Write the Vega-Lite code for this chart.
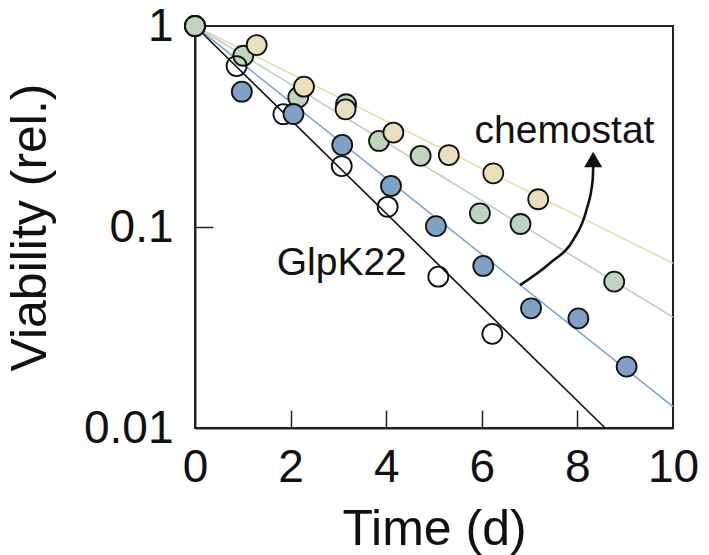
{
  "$schema": "https://vega.github.io/schema/vega-lite/v6.json",
  "autosize": "none",
  "width": 478,
  "height": 402,
  "padding": {"left": 195, "top": 26, "right": 36, "bottom": 127},
  "background": "white",
  "config": {
    "font": "Liberation Sans",
    "view": {"stroke": "#222", "strokeWidth": 2},
    "axis": {
      "grid": false,
      "domainColor": "#222",
      "domainWidth": 2,
      "tickColor": "#222",
      "tickWidth": 1.5,
      "labelFont": "Liberation Sans",
      "labelFontSize": 46,
      "labelColor": "#111",
      "titleFont": "Liberation Sans",
      "titleFontSize": 50,
      "titleFontWeight": "normal",
      "titleColor": "#111"
    }
  },
  "resolve": {"axis": {"x": "independent", "y": "independent"}},
  "datasets": {
    "fits": [
      {"series": "chemostat 3", "x": 0, "y": 1},
      {"series": "chemostat 3", "x": 10, "y": 0.066},
      {"series": "chemostat 2", "x": 0, "y": 1},
      {"series": "chemostat 2", "x": 10, "y": 0.0356},
      {"series": "chemostat 1", "x": 0, "y": 1},
      {"series": "chemostat 1", "x": 10, "y": 0.01277},
      {"series": "GlpK22", "x": 0, "y": 1},
      {"series": "GlpK22", "x": 8.58, "y": 0.01}
    ],
    "points": [
      {"series": "chemostat 2", "x": 1.01, "y": 0.711},
      {"series": "chemostat 2", "x": 2.16, "y": 0.442},
      {"series": "chemostat 2", "x": 3.16, "y": 0.408},
      {"series": "chemostat 2", "x": 3.85, "y": 0.268},
      {"series": "chemostat 2", "x": 4.72, "y": 0.226},
      {"series": "chemostat 2", "x": 5.96, "y": 0.117},
      {"series": "chemostat 2", "x": 6.81, "y": 0.1035},
      {"series": "chemostat 2", "x": 8.77, "y": 0.0535},
      {"series": "chemostat 3", "x": 0, "y": 1},
      {"series": "chemostat 3", "x": 1.29, "y": 0.804},
      {"series": "chemostat 3", "x": 2.28, "y": 0.499},
      {"series": "chemostat 3", "x": 3.15, "y": 0.385},
      {"series": "chemostat 3", "x": 4.15, "y": 0.295},
      {"series": "chemostat 3", "x": 5.31, "y": 0.228},
      {"series": "chemostat 3", "x": 6.24, "y": 0.185},
      {"series": "chemostat 3", "x": 7.18, "y": 0.1374},
      {"series": "GlpK22", "x": 0, "y": 1},
      {"series": "GlpK22", "x": 0.87, "y": 0.632},
      {"series": "GlpK22", "x": 1.85, "y": 0.364},
      {"series": "GlpK22", "x": 3.07, "y": 0.201},
      {"series": "GlpK22", "x": 4.03, "y": 0.126},
      {"series": "GlpK22", "x": 5.09, "y": 0.0566},
      {"series": "GlpK22", "x": 6.22, "y": 0.0294},
      {"series": "chemostat 1", "x": 0, "y": 1},
      {"series": "chemostat 1", "x": 0.98, "y": 0.471},
      {"series": "chemostat 1", "x": 2.06, "y": 0.365},
      {"series": "chemostat 1", "x": 3.08, "y": 0.256},
      {"series": "chemostat 1", "x": 4.10, "y": 0.160},
      {"series": "chemostat 1", "x": 5.04, "y": 0.101},
      {"series": "chemostat 1", "x": 6.03, "y": 0.064},
      {"series": "chemostat 1", "x": 7.03, "y": 0.0394},
      {"series": "chemostat 1", "x": 8.02, "y": 0.0351},
      {"series": "chemostat 1", "x": 9.03, "y": 0.0202},
      {"series": "chemostat 2", "x": 0, "y": 1}
    ],
    "arrow": [
      {"x": 6.80, "y": 0.0514},
      {"x": 7.43, "y": 0.0662},
      {"x": 7.91, "y": 0.0861},
      {"x": 8.19, "y": 0.1215},
      {"x": 8.32, "y": 0.1714},
      {"x": 8.33, "y": 0.199}
    ],
    "arrowhead": [
      {"x": 8.33, "y": 0.2168}
    ],
    "labels": [
      {"x": 7.73, "y": 0.262, "text": "chemostat"},
      {"x": 3.07, "y": 0.0577, "text": "GlpK22"}
    ]
  },
  "layer": [
    {
      "data": {"name": "fits"},
      "mark": {"type": "line", "strokeWidth": 1.6},
      "encoding": {
        "x": {
          "field": "x",
          "type": "quantitative",
          "scale": {"domain": [0, 10], "nice": false, "zero": false},
          "axis": {
            "orient": "bottom",
            "values": [0, 2, 4, 6, 8, 10],
            "title": "Time (d)",
            "ticks": false,
            "labelPadding": 17,
            "titlePadding": 14,
            "labelFlush": false
          }
        },
        "y": {
          "field": "y",
          "type": "quantitative",
          "scale": {"type": "log", "domain": [0.01, 1], "nice": false},
          "axis": {
            "orient": "left",
            "values": [0.01, 0.1, 1],
            "format": "~g",
            "title": "Viability (rel.)",
            "ticks": false,
            "labelPadding": 22,
            "titlePadding": 28,
            "labelFlush": false
          }
        },
        "stroke": {
          "field": "series",
          "type": "nominal",
          "scale": {
            "domain": ["GlpK22", "chemostat 1", "chemostat 2", "chemostat 3"],
            "range": ["#111111", "#7ea6d0", "#b9d0b9", "#e8dcae"]
          },
          "legend": null
        }
      }
    },
    {
      "data": {"name": "points"},
      "mark": {"type": "point", "filled": false, "size": 400, "stroke": "#111", "strokeWidth": 1.8, "opacity": 1},
      "encoding": {
        "x": {
          "field": "x",
          "type": "quantitative",
          "axis": {
            "orient": "bottom",
            "offset": -18,
            "values": [2, 4, 6, 8],
            "domain": false,
            "labels": false,
            "title": null,
            "ticks": true,
            "tickSize": 18
          }
        },
        "y": {
          "field": "y",
          "type": "quantitative",
          "axis": {
            "orient": "left",
            "offset": -18,
            "values": [0.1],
            "domain": false,
            "labels": false,
            "title": null,
            "ticks": true,
            "tickSize": 18
          }
        },
        "fill": {
          "field": "series",
          "type": "nominal",
          "scale": {
            "domain": ["GlpK22", "chemostat 1", "chemostat 2", "chemostat 3"],
            "range": ["transparent", "#7ea1c4", "#bfd4bf", "#e9dfbd"]
          },
          "legend": null
        },
        "fillOpacity": {"value": 1}
      }
    },
    {
      "data": {"name": "arrow"},
      "mark": {"type": "line", "interpolate": "monotone", "stroke": "#111", "strokeWidth": 2.6},
      "encoding": {
        "x": {"field": "x", "type": "quantitative", "axis": null},
        "y": {"field": "y", "type": "quantitative", "axis": null}
      }
    },
    {
      "data": {"name": "arrowhead"},
      "mark": {"type": "point", "shape": "triangle-up", "filled": true, "size": 324, "color": "#111", "opacity": 1},
      "encoding": {
        "x": {"field": "x", "type": "quantitative", "axis": null},
        "y": {"field": "y", "type": "quantitative", "axis": null}
      }
    },
    {
      "data": {"name": "labels"},
      "mark": {"type": "text", "font": "Liberation Sans", "fontSize": 39, "align": "center", "baseline": "alphabetic", "color": "#111"},
      "encoding": {
        "x": {"field": "x", "type": "quantitative", "axis": null},
        "y": {"field": "y", "type": "quantitative", "axis": null},
        "text": {"field": "text"}
      }
    }
  ]
}
